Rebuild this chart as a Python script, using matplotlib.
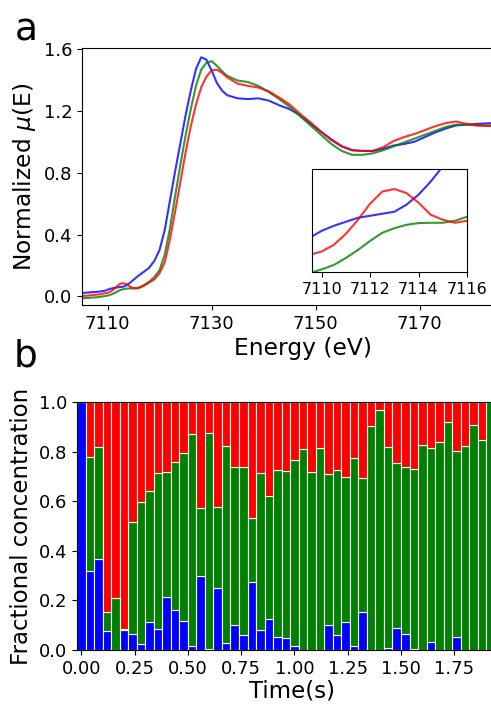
import matplotlib
matplotlib.use("Agg")
import matplotlib.pyplot as plt
import numpy as np

plt.rcParams.update({"font.family": "DejaVu Sans", "font.size": 13})

# --- panel a: XANES spectra ---
energy = [7104, 7106, 7108, 7109,
          7109.5, 7110, 7110.5, 7111, 7111.5, 7112, 7112.5, 7113, 7113.5, 7114,
          7114.5, 7115, 7115.5, 7116, 7116.5, 7117,
          7118, 7119, 7120, 7121, 7122, 7123, 7124, 7125, 7126, 7127, 7128, 7129,
          7130, 7131, 7132, 7133,
          7135, 7137, 7139, 7141, 7143, 7145, 7147, 7149, 7151, 7153, 7155, 7157,
          7159, 7161, 7163, 7165, 7167, 7169, 7171, 7173, 7175, 7177, 7179, 7181,
          7184, 7188]
mu_blue = [0.018, 0.025, 0.03, 0.034,
           0.037, 0.044, 0.049, 0.053, 0.057, 0.059, 0.061, 0.063, 0.070, 0.080,
           0.093, 0.108, 0.122, 0.135, 0.148, 0.16,
           0.185, 0.23, 0.30, 0.43, 0.62, 0.81, 0.99, 1.17, 1.33, 1.47, 1.545, 1.53,
           1.46, 1.38, 1.33, 1.30,
           1.28, 1.275, 1.28, 1.265, 1.235, 1.21, 1.17, 1.115, 1.065, 1.015, 0.97, 0.945,
           0.94, 0.94, 0.955, 0.975, 0.985, 1.0, 1.03, 1.06, 1.085, 1.105, 1.11, 1.115,
           1.12, 1.12]
mu_green = [-0.012, -0.01, -0.005, 0.0,
            0.002, 0.0056, 0.010, 0.017, 0.025, 0.034, 0.042, 0.0466, 0.050, 0.0517,
            0.052, 0.052, 0.054, 0.058, 0.065, 0.073,
            0.095, 0.125, 0.17, 0.27, 0.44, 0.65, 0.85, 1.04, 1.21, 1.36, 1.465, 1.51,
            1.52, 1.49, 1.455, 1.425,
            1.395, 1.385, 1.36, 1.32, 1.275, 1.225, 1.165, 1.105, 1.045, 0.985, 0.94, 0.915,
            0.915, 0.925, 0.945, 0.97, 0.995, 1.02, 1.045, 1.07, 1.095, 1.11, 1.11, 1.105,
            1.105, 1.105]
mu_red = [0.0, 0.005, 0.012, 0.017,
          0.020, 0.0235, 0.030, 0.041, 0.055, 0.071, 0.083, 0.0856, 0.0816, 0.072,
          0.060, 0.055, 0.052, 0.054, 0.06, 0.07,
          0.09, 0.11, 0.15, 0.22, 0.37, 0.55, 0.74, 0.93, 1.1, 1.24, 1.35, 1.42,
          1.46, 1.465, 1.445, 1.415,
          1.375, 1.36, 1.35, 1.325, 1.285, 1.24, 1.18, 1.125, 1.065, 1.01, 0.97, 0.945,
          0.94, 0.94, 0.965, 1.005, 1.03, 1.05, 1.075, 1.1, 1.12, 1.13, 1.115, 1.105,
          1.1, 1.1]

# --- panel b: fractional concentrations per time slice ---
time_s = [0.04 * i for i in range(49)]
frac_blue = [1.0, 0.317, 0.367, 0.075, 0.0, 0.081, 0.065, 0.024, 0.112, 0.085,
             0.214, 0.16, 0.116, 0.017, 0.298, 0.005, 0.25, 0.03, 0.1, 0.062,
             0.274, 0.081, 0.125, 0.051, 0.047, 0.016, 0.0, 0.0, 0.0, 0.1,
             0.059, 0.113, 0.015, 0.153, 0.0, 0.0, 0.007, 0.087, 0.066, 0.004,
             0.0, 0.031, 0.0, 0.0, 0.052, 0.0, 0.0, 0.0, 0.0]
frac_green = [0.0, 0.46, 0.454, 0.078, 0.21, 0.004, 0.45, 0.573, 0.528, 0.63,
              0.505, 0.597, 0.68, 0.853, 0.276, 0.87, 0.327, 0.795, 0.64, 0.675,
              0.258, 0.633, 0.497, 0.675, 0.676, 0.749, 0.812, 0.72, 0.816, 0.61,
              0.668, 0.587, 0.759, 0.541, 0.902, 0.969, 0.814, 0.667, 0.672, 0.727,
              0.829, 0.784, 0.841, 0.922, 0.752, 0.823, 0.906, 0.849, 1.0]
frac_red = [1 - b - g for b, g in zip(frac_blue, frac_green)]

fig = plt.figure(figsize=(4.91, 7.04), dpi=100)
line_kw = dict(lw=1.5, alpha=0.8)

ax = fig.add_axes([0.167, 0.5668, 0.90, 0.365])
ax.plot(energy, mu_blue, color="blue", **line_kw)
ax.plot(energy, mu_green, color="green", **line_kw)
ax.plot(energy, mu_red, color="red", **line_kw)
ax.set_xlim(7105.1, 7190)
ax.set_ylim(-0.055, 1.605)
ax.set_xticks([7110, 7130, 7150, 7170])
ax.set_yticks([0.0, 0.4, 0.8, 1.2, 1.6])
ax.set_xlabel("Energy (eV)", fontsize=16.8, labelpad=3)
ax.set_ylabel(r"Normalized $\mu$(E)", fontsize=16.8)

axi = fig.add_axes([0.6354, 0.6136, 0.3157, 0.1463])
axi.plot(energy, mu_blue, color="blue", **line_kw)
axi.plot(energy, mu_green, color="green", **line_kw)
axi.plot(energy, mu_red, color="red", **line_kw)
axi.set_xlim(7109.6, 7116)
axi.set_ylim(0.003, 0.1055)
axi.set_xticks([7110, 7112, 7114, 7116])
axi.set_yticks([])
axi.tick_params(labelsize=11.5)

ax2 = fig.add_axes([0.1568, 0.0767, 0.877, 0.352])
ax2.bar(time_s, frac_blue, width=0.04, color="blue", edgecolor="white", lw=0.8)
ax2.bar(time_s, frac_green, width=0.04, bottom=frac_blue, color="green",
        edgecolor="white", lw=0.8)
ax2.bar(time_s, frac_red, width=0.04,
        bottom=[b + g for b, g in zip(frac_blue, frac_green)], color="red",
        edgecolor="white", lw=0.8)
ax2.set_xlim(-0.02, 2.0)
ax2.set_ylim(0, 1.0)
ax2.set_xticks(np.arange(0, 1.76, 0.25))
ax2.set_yticks([0.0, 0.2, 0.4, 0.6, 0.8, 1.0])
ax2.set_xlabel("Time(s)", fontsize=16.5, labelpad=1)
ax2.set_ylabel("Fractional concentration", fontsize=16.5)

fig.text(0.031, 0.942, "a", fontsize=27, va="baseline")
fig.text(0.027, 0.479, "b", fontsize=27, va="baseline")

fig.savefig("out.png", dpi=100)
